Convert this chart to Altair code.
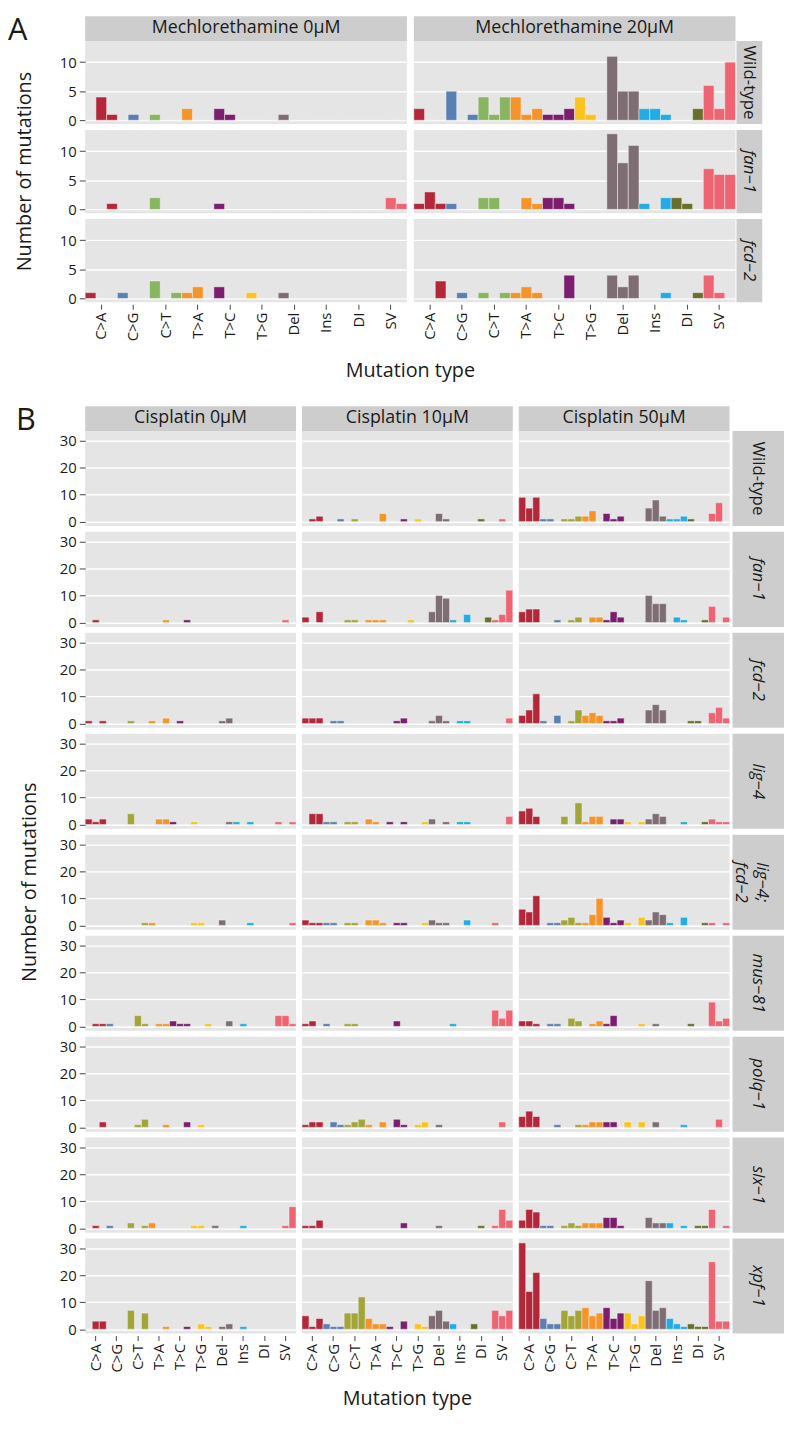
import altair as alt
import pandas as pd

# ---------------- data ----------------
MUT_TYPES = ["C>A", "C>G", "C>T", "T>A", "T>C", "T>G", "Del", "Ins", "DI", "SV"]
SAMPLES = [1, 2, 3]

# Panel A
A_DOSES = ["Mechlorethamine 0µM", "Mechlorethamine 20µM"]
A_GENOTYPES = ["Wild-type", "fan−1", "fcd−2"]
#            C>A     C>G     C>T     T>A     T>C     T>G     Del       Ins     DI      SV
A_WT_0   = [0,4,1,  0,1,0,  1,0,0,  2,0,0,  2,1,0,  0,0,0,  1,0,0,    0,0,0,  0,0,0,  0,0,0]
A_WT_20  = [2,0,0,  5,0,1,  4,1,4,  4,1,2,  1,1,2,  4,1,0,  11,5,5,   2,2,1,  0,0,2,  6,2,10]
A_FAN_0  = [0,0,1,  0,0,0,  2,0,0,  0,0,0,  1,0,0,  0,0,0,  0,0,0,    0,0,0,  0,0,0,  0,2,1]
A_FAN_20 = [1,3,1,  1,0,0,  2,2,0,  0,2,1,  2,2,1,  0,0,0,  13,8,11,  1,0,2,  2,1,0,  7,6,6]
A_FCD_0  = [1,0,0,  1,0,0,  3,0,1,  1,2,0,  2,0,0,  1,0,0,  1,0,0,    0,0,0,  0,0,0,  0,0,0]
A_FCD_20 = [0,0,3,  0,1,0,  1,0,1,  1,2,1,  0,0,4,  0,0,0,  4,2,4,    0,0,1,  0,0,1,  4,1,0]

# Panel B
B_DOSES = ["Cisplatin 0µM", "Cisplatin 10µM", "Cisplatin 50µM"]
B_GENOTYPES = ["Wild-type", "fan−1", "fcd−2", "lig−4", "lig−4;fcd−2",
               "mus−81", "polq−1", "slx−1", "xpf−1"]
#             C>A       C>G     C>T      T>A     T>C     T>G     Del      Ins     DI      SV
B_WT_0    = [0,0,0,    0,0,0,  0,0,0,   0,0,0,  0,0,0,  0,0,0,  0,0,0,   0,0,0,  0,0,0,  0,0,0]
B_WT_10   = [0,1,2,    0,0,1,  0,1,0,   0,0,3,  0,0,1,  0,1,0,  0,3,1,   0,0,0,  0,1,0,  0,1,0]
B_WT_50   = [9,5,9,    1,1,0,  1,1,2,   2,4,0,  3,1,2,  0,0,0,  5,8,2,   1,1,2,  1,0,0,  3,7,0]
B_FAN_0   = [0,1,0,    0,0,0,  0,0,0,   0,0,1,  0,0,1,  0,0,0,  0,0,0,   0,0,0,  0,0,0,  0,1,0]
B_FAN_10  = [2,0,4,    0,0,0,  1,1,0,   1,1,1,  0,0,0,  1,0,0,  4,10,9,  1,0,3,  0,0,2,  1,3,12]
B_FAN_50  = [4,5,5,    0,0,1,  0,1,2,   0,2,2,  1,4,2,  0,0,0,  10,7,7,  0,2,1,  0,0,1,  6,0,2]
B_FCD_0   = [1,0,1,    0,0,0,  1,0,0,   1,0,2,  0,1,0,  0,0,0,  0,1,2,   0,0,0,  0,0,0,  0,0,0]
B_FCD_10  = [2,2,2,    0,1,1,  0,0,0,   0,0,0,  0,1,2,  0,0,0,  1,3,1,   0,1,1,  0,0,0,  0,0,2]
B_FCD_50  = [3,5,11,   1,0,3,  0,1,5,   3,4,3,  1,1,2,  0,0,0,  5,7,5,   0,0,0,  1,1,0,  4,6,2]
B_LIG_0   = [2,1,2,    0,0,0,  4,0,0,   0,2,2,  1,0,0,  1,0,0,  0,0,1,   1,0,1,  0,0,0,  1,0,1]
B_LIG_10  = [0,4,4,    1,1,0,  1,1,0,   2,1,0,  1,0,1,  0,0,1,  2,0,1,   0,1,1,  0,0,0,  0,0,3]
B_LIG_50  = [5,6,3,    0,0,0,  3,0,8,   1,3,3,  0,2,2,  1,0,1,  2,4,3,   0,0,1,  0,0,1,  2,1,1]
B_LF_0    = [0,0,0,    0,0,0,  0,0,1,   1,0,0,  0,0,0,  1,1,0,  0,2,0,   0,0,1,  0,0,0,  0,0,1]
B_LF_10   = [2,1,1,    1,1,0,  1,1,0,   2,2,1,  0,1,1,  0,0,1,  2,1,1,   0,0,2,  0,0,0,  1,0,0]
B_LF_50   = [6,5,11,   0,1,1,  2,3,1,   1,4,10, 3,1,2,  1,0,3,  2,5,4,   1,0,3,  0,0,1,  1,0,1]
B_MUS_0   = [0,1,1,    1,0,0,  0,4,1,   0,1,1,  2,1,1,  0,0,1,  0,0,2,   0,1,0,  0,0,0,  4,4,1]
B_MUS_10  = [1,2,0,    1,0,0,  1,1,0,   0,0,0,  0,2,0,  0,0,0,  0,0,0,   1,0,0,  0,0,0,  6,3,6]
B_MUS_50  = [2,2,1,    0,1,1,  0,3,2,   0,1,2,  1,4,0,  0,0,1,  0,1,0,   0,0,0,  1,0,0,  9,2,3]
B_POLQ_0  = [0,0,2,    0,0,0,  0,1,3,   0,0,1,  0,0,2,  0,1,0,  0,0,0,   0,0,0,  0,0,0,  0,0,0]
B_POLQ_10 = [1,2,2,    0,2,1,  1,2,3,   1,0,2,  0,3,1,  0,1,2,  0,1,0,   0,0,0,  0,0,0,  0,2,0]
B_POLQ_50 = [4,6,4,    0,0,1,  0,0,1,   1,2,2,  2,2,0,  2,0,2,  0,2,0,   0,0,1,  0,0,0,  0,3,0]
B_SLX_0   = [0,1,0,    1,0,0,  2,0,1,   2,0,0,  0,0,0,  1,1,0,  1,0,0,   0,1,0,  0,0,0,  0,1,8]
B_SLX_10  = [1,1,3,    0,0,0,  0,0,0,   0,0,0,  0,0,2,  0,0,0,  0,1,0,   0,0,0,  0,1,0,  1,7,3]
B_SLX_50  = [3,7,6,    1,1,0,  1,2,1,   2,2,2,  4,4,1,  0,0,0,  4,2,2,   2,0,1,  0,1,1,  7,0,1]
B_XPF_0   = [0,3,3,    0,0,0,  7,0,6,   0,0,1,  0,0,1,  0,2,1,  0,1,2,   0,1,0,  0,0,0,  0,0,0]
B_XPF_10  = [5,1,4,    2,1,1,  6,6,12,  4,2,2,  1,0,3,  0,2,1,  5,7,3,   2,0,0,  2,0,0,  7,5,7]
B_XPF_50  = [32,14,21, 4,2,2,  7,5,7,   8,5,6,  8,4,6,  6,2,5,  18,7,8,  4,2,1,  2,1,1,  25,3,3]

A_TABLE = {
    "Wild-type": [A_WT_0, A_WT_20],
    "fan−1": [A_FAN_0, A_FAN_20],
    "fcd−2": [A_FCD_0, A_FCD_20],
}
B_TABLE = {
    "Wild-type": [B_WT_0, B_WT_10, B_WT_50],
    "fan−1": [B_FAN_0, B_FAN_10, B_FAN_50],
    "fcd−2": [B_FCD_0, B_FCD_10, B_FCD_50],
    "lig−4": [B_LIG_0, B_LIG_10, B_LIG_50],
    "lig−4;fcd−2": [B_LF_0, B_LF_10, B_LF_50],
    "mus−81": [B_MUS_0, B_MUS_10, B_MUS_50],
    "polq−1": [B_POLQ_0, B_POLQ_10, B_POLQ_50],
    "slx−1": [B_SLX_0, B_SLX_10, B_SLX_50],
    "xpf−1": [B_XPF_0, B_XPF_10, B_XPF_50],
}

STRIP_LABELS = {
    "lig−4;fcd−2": ["lig−4;", "fcd−2"],
}

# ---------------- styles ----------------
COLORS_A = ["#B2283A", "#5A7FB2", "#88B55F", "#F4942A", "#7B1E6E",
            "#FCC21E", "#7E6E74", "#22ABE5", "#6A6E2A", "#EE6473"]
COLORS_B = ["#B2283A", "#5A7FB2", "#A2A537", "#F4942A", "#7B1E6E",
            "#FCC21E", "#7E6E74", "#22ABE5", "#6A6E2A", "#EE6473"]
PANEL_BG = "#E5E5E5"
STRIP_BG = "#CDCDCD"
TXT = "#1a1a1a"
ONE = pd.DataFrame({"k": [0]})


def long_table(table, doses):
    rows = []
    for g, series in table.items():
        for d, vals in zip(doses, series):
            for i, v in enumerate(vals):
                rows.append({"genotype": g, "dose": d,
                             "mutation": MUT_TYPES[i // 3],
                             "sample": SAMPLES[i % 3], "count": v})
    return pd.DataFrame(rows)


def text_layer(txt, x, y, **kw):
    return alt.Chart(ONE).mark_text(text=txt, color=TXT, **kw).encode(
        x=alt.value(x), y=alt.value(y))


def rect_layer(x, x2, y, y2):
    return alt.Chart(ONE).mark_rect(color=STRIP_BG).encode(
        x=alt.value(x), x2=alt.value(x2), y=alt.value(y), y2=alt.value(y2))


def build_panel(letter, table, doses, colors, ydom, yticks, W, H, col_sp,
                row_sp, strip_gap, strip_w, hdr, letter_dx, ytitle_dx,
                xtitle_col, xtitle_dx, xtitle_dy):
    df = long_table(table, doses)
    genotypes = list(table.keys())
    nr, nc = len(genotypes), len(doses)
    cells = []
    for r, g in enumerate(genotypes):
        for c, d in enumerate(doses):
            bottom = r == nr - 1
            if bottom:
                xaxis = alt.Axis(labelAngle=270, labelFontSize=15, labelColor=TXT,
                                 labelPadding=3, labelOverlap=False, tickSize=5,
                                 tickColor="#555555", tickWidth=1.1, offset=2,
                                 domain=False, grid=False, title=None)
            else:
                xaxis = None
            if c == 0:
                yaxis = alt.Axis(values=yticks, grid=True, gridColor="white",
                                 gridWidth=1.4, domain=False, tickColor="#555555",
                                 tickSize=6, tickWidth=1.1, labelFontSize=15,
                                 labelColor=TXT, labelPadding=3, title=None)
            else:
                yaxis = alt.Axis(values=yticks, grid=True, gridColor="white",
                                 gridWidth=1.4, domain=False, ticks=False,
                                 labels=False, title=None)
            bars = alt.Chart(df).transform_filter(
                (alt.datum.genotype == g) & (alt.datum.dose == d)
            ).mark_bar(stroke="#f4f4f4", strokeWidth=0.5).encode(
                x=alt.X("mutation:N", axis=xaxis,
                        scale=alt.Scale(domain=MUT_TYPES, paddingInner=0,
                                        paddingOuter=0)),
                xOffset=alt.XOffset("sample:N",
                                    scale=alt.Scale(domain=SAMPLES, paddingInner=0,
                                                    paddingOuter=0)),
                y=alt.Y("count:Q", axis=yaxis, stack=None,
                        scale=alt.Scale(domain=ydom, nice=False)),
                color=alt.Color("mutation:N", legend=None,
                                scale=alt.Scale(domain=MUT_TYPES, range=colors)),
            )
            layers = [bars]
            if r == 0:
                layers.append(rect_layer(0, W, -hdr, 0))
                layers.append(text_layer(d, W / 2, -hdr / 2, fontSize=18,
                                         align="center", baseline="middle"))
            if c == nc - 1:
                x0 = W + strip_gap
                layers.append(rect_layer(x0, x0 + strip_w, 0, H))
                lab = STRIP_LABELS.get(g, g)
                dx = 4 if isinstance(lab, list) else 0
                layers.append(text_layer(lab, x0 + strip_w / 2 + dx, H / 2, fontSize=17,
                                         angle=90, align="center",
                                         baseline="middle", lineHeight=21,
                                         fontStyle="normal" if g == "Wild-type" else "italic"))
            if r == 0 and c == 0:
                layers.append(text_layer(letter, -letter_dx, -hdr + 24, fontSize=31,
                                         align="left", baseline="alphabetic"))
            if c == 0 and r == nr // 2:
                layers.append(text_layer("Number of mutations", ytitle_dx, H / 2,
                                         fontSize=20, angle=270, align="center",
                                         baseline="middle"))
            if bottom and c == xtitle_col:
                layers.append(text_layer("Mutation type", xtitle_dx, xtitle_dy,
                                         fontSize=20, align="center",
                                         baseline="middle"))
            cells.append(alt.layer(*layers).properties(width=W, height=H))
    return alt.concat(*cells, columns=nc, bounds="flush",
                      spacing={"row": row_sp, "column": col_sp})


W_A, H_A = 325, 84
panel_a = build_panel("A", A_TABLE, A_DOSES, COLORS_A, [-0.65, 13.65], [0, 5, 10],
                      W_A, H_A, 7, 6, 1, 26, 25, 78, -61,
                      0, W_A + 3.5, H_A + 70)

W_B, H_B = 213, 96
panel_b = build_panel("B", B_TABLE, B_DOSES, COLORS_B, [-1.6, 33.6], [0, 10, 20, 30],
                      W_B, H_B, 6, 6, 3, 52, 25, 70, -56,
                      1, W_B / 2, H_B + 66)

chart = alt.vconcat(panel_a, panel_b, spacing=24).resolve_scale(
    color="independent", xOffset="independent"
).properties(padding=0).configure(
    font="Open Sans"
).configure_view(
    fill=PANEL_BG, stroke=None
)

chart.save("out.html", embed_options={"renderer": "svg", "actions": False})
